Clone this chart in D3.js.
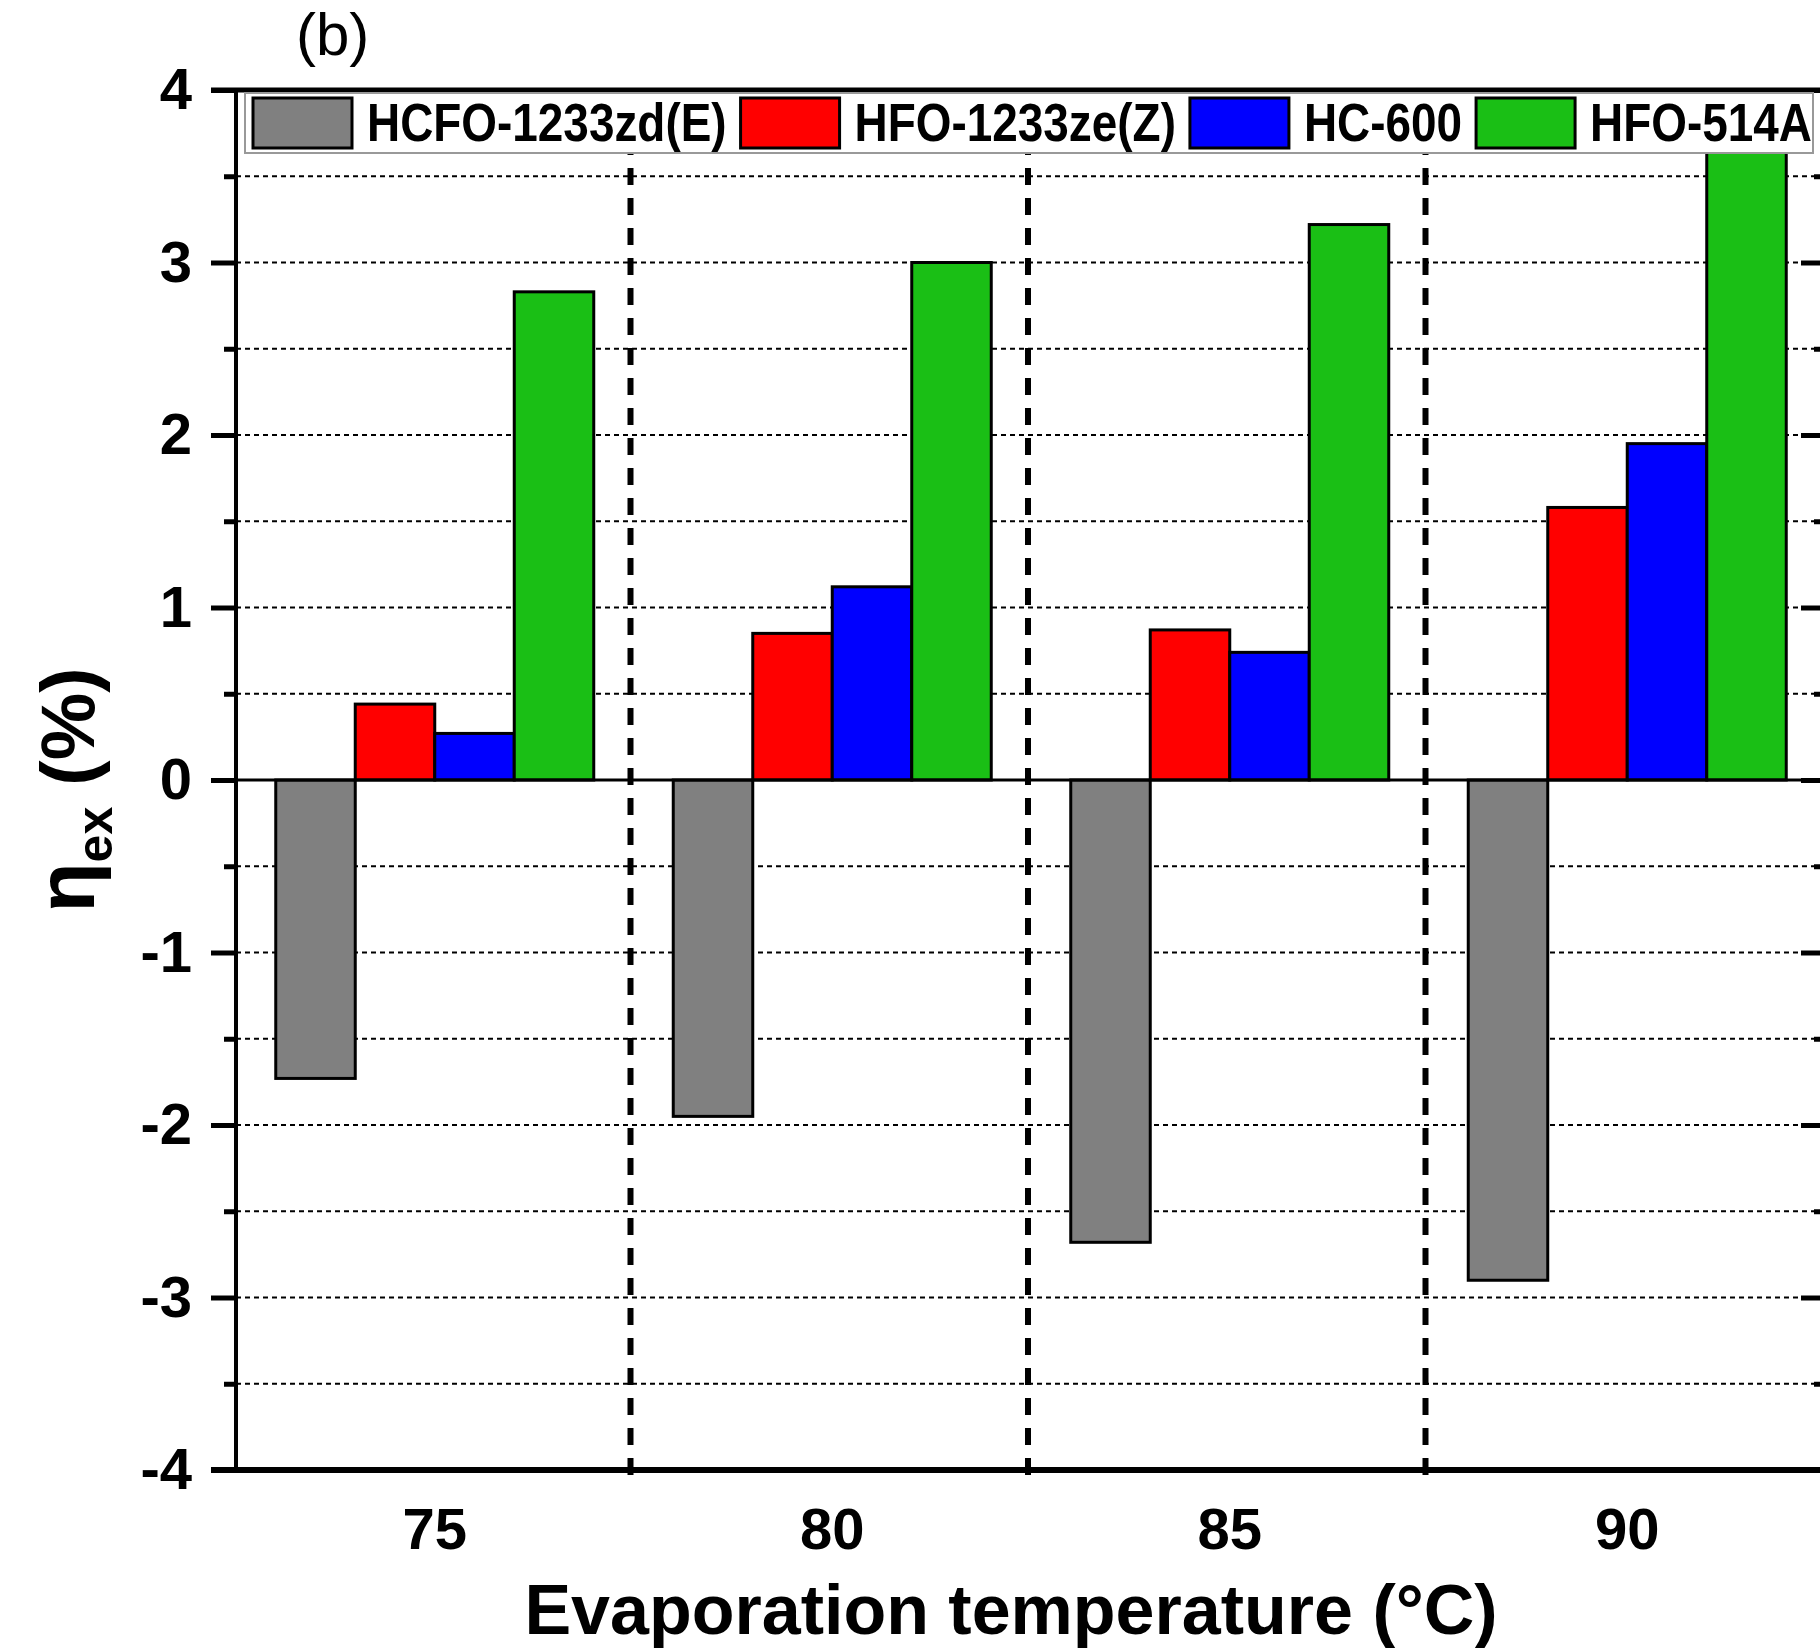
<!DOCTYPE html>
<html lang="en">
<head>
<meta charset="UTF-8">
<title>Exergy efficiency difference</title>
<script src="https://cdn.jsdelivr.net/npm/d3@7"></script>
<style>
  body { margin: 0; background: #fff; }
  text { font-family: "Liberation Sans", Arial, sans-serif; }
</style>
</head>
<body>
<div id="container"></div>
<script>
// evaporation temperatures (°C)
const temps = ["75", "80", "85", "90"];
const seriesNames = ["HCFO-1233zd(E)", "HFO-1233ze(Z)", "HC-600", "HFO-514A"];
const seriesColors = ["#808080", "#ff0000", "#0000ff", "#1abf15"];

// eta_ex (%) per fluid, one value per temperature
const hcfo1233zdE = [-1.73, -1.95, -2.68, -2.90];
const hfo1233zeZ = [0.44, 0.85, 0.87, 1.58];
const hc600 = [0.27, 1.12, 0.74, 1.95];
const hfo514A = [2.83, 3.00, 3.22, 3.70];

const yTicks = [-4, -3, -2, -1, 0, 1, 2, 3, 4];
const yMinor = [-3.5, -2.5, -1.5, -0.5, 0.5, 1.5, 2.5, 3.5];

const allValues = [hcfo1233zdE, hfo1233zeZ, hc600, hfo514A];
const rows = [];
temps.forEach((t, i) => {
  seriesNames.forEach((s, j) => rows.push({ temp: t, series: s, value: allValues[j][i] }));
});

const W = 1820, H = 1648;
const mLeft = 236, mRight = 1826, mTop = 90, mBottom = 1470;

const svg = d3.create("svg").attr("width", W).attr("height", H);

const x = d3.scaleBand().domain(temps).range([mLeft, mRight]);
const xs = d3.scaleBand().domain(seriesNames)
  .range([x.bandwidth() * 0.1, x.bandwidth() * 0.9]);
const y = d3.scaleLinear().domain([-4, 4]).range([mBottom, mTop]);
const color = d3.scaleOrdinal().domain(seriesNames).range(seriesColors);

// dashed grid every 0.5
const gridVals = yTicks.concat(yMinor).filter(v => v !== 0 && v !== 4 && v !== -4);
svg.append("g").selectAll("line").data(gridVals).enter().append("line")
  .attr("x1", mLeft).attr("x2", mRight)
  .attr("y1", d => y(d)).attr("y2", d => y(d))
  .attr("stroke", "#000").attr("stroke-width", 2)
  .attr("stroke-dasharray", "5,4");

// group separators
const seps = temps.slice(1);
svg.append("g").selectAll("line").data(seps).enter().append("line")
  .attr("x1", d => x(d) - 3).attr("x2", d => x(d) - 3)
  .attr("y1", mBottom + 5).attr("y2", mTop)
  .attr("stroke", "#000").attr("stroke-width", 6)
  .attr("stroke-dasharray", "17,13");

// bars
svg.append("g").selectAll("rect").data(rows).enter().append("rect")
  .attr("x", d => x(d.temp) + xs(d.series))
  .attr("width", xs.bandwidth())
  .attr("y", d => y(Math.max(0, d.value)))
  .attr("height", d => Math.abs(y(d.value) - y(0)))
  .attr("fill", d => color(d.series))
  .attr("stroke", "#000").attr("stroke-width", 3);

// zero line
svg.append("line")
  .attr("x1", mLeft).attr("x2", mRight).attr("y1", y(0)).attr("y2", y(0))
  .attr("stroke", "#000").attr("stroke-width", 3);

// left axis
const yAxis = d3.axisLeft(y).tickValues(yTicks).tickSize(25).tickPadding(19)
  .tickFormat(d => String(d));
const gy = svg.append("g").attr("transform", `translate(${mLeft},0)`).call(yAxis);
gy.select(".domain").remove();
gy.selectAll(".tick line").attr("stroke-width", 5);
gy.selectAll(".tick text").attr("font-size", 58).attr("font-weight", "bold").attr("fill", "#000");
const gyMinor = svg.append("g").attr("transform", `translate(${mLeft},0)`)
  .call(d3.axisLeft(y).tickValues(yMinor).tickSize(12).tickFormat(""));
gyMinor.select(".domain").remove();
gyMinor.selectAll(".tick line").attr("stroke-width", 5);

// right axis ticks (inward)
const gr = svg.append("g").attr("transform", `translate(${mRight},0)`)
  .call(d3.axisLeft(y).tickValues(yTicks).tickSize(25).tickFormat(""));
gr.select(".domain").remove();
gr.selectAll(".tick line").attr("stroke-width", 5);
const grm = svg.append("g").attr("transform", `translate(${mRight},0)`)
  .call(d3.axisLeft(y).tickValues(yMinor).tickSize(12).tickFormat(""));
grm.select(".domain").remove();
grm.selectAll(".tick line").attr("stroke-width", 5);

// frame
svg.append("line").attr("x1", mLeft).attr("x2", mLeft).attr("y1", mTop).attr("y2", mBottom)
  .attr("stroke", "#000").attr("stroke-width", 4);
svg.append("line").attr("x1", mLeft - 25).attr("x2", mRight).attr("y1", mTop).attr("y2", mTop)
  .attr("stroke", "#000").attr("stroke-width", 5);
svg.append("line").attr("x1", mLeft - 25).attr("x2", mRight).attr("y1", mBottom).attr("y2", mBottom)
  .attr("stroke", "#000").attr("stroke-width", 6);

// x tick labels
const gx = svg.append("g").attr("transform", `translate(0,${mBottom})`)
  .call(d3.axisBottom(x).tickSize(0).tickPadding(0));
gx.select(".domain").remove();
gx.selectAll(".tick text").attr("font-size", 58).attr("font-weight", "bold")
  .attr("fill", "#000").attr("dy", null).attr("y", 79);

// axis titles
svg.append("text").attr("x", 1011).attr("y", 1634)
  .attr("text-anchor", "middle").attr("font-size", 70).attr("font-weight", "bold")
  .text("Evaporation temperature (°C)");

const yt = svg.append("text")
  .attr("transform", "translate(94,790) rotate(-90)")
  .attr("text-anchor", "middle").attr("font-size", 76).attr("font-weight", "bold");
yt.append("tspan").attr("font-size", 82).text("η");
yt.append("tspan").attr("font-size", 50).attr("dy", 18).text("ex");
yt.append("tspan").attr("dy", -18).text(" (%)");

// panel label
svg.append("text").attr("x", 296).attr("y", 55).attr("font-size", 60).text("(b)");

// legend
const lg = svg.append("g");
lg.append("rect").attr("x", 245).attr("y", 93).attr("width", 1568).attr("height", 60)
  .attr("fill", "#fff").attr("stroke", "#999").attr("stroke-width", 2);
const items = lg.selectAll("g.item").data(seriesNames).enter().append("g").attr("class", "item");
items.append("rect").attr("y", 98).attr("width", 99).attr("height", 50)
  .attr("fill", d => color(d)).attr("stroke", "#000").attr("stroke-width", 3);
items.append("text").attr("font-size", 54).attr("font-weight", "bold")
  .text(d => d);

d3.select("#container").node().append(svg.node());

// lay out legend entries using measured (horizontally condensed) text widths
const squeeze = 0.85;
let cx = 253;
items.each(function () {
  const g = d3.select(this);
  g.select("rect").attr("x", cx);
  const t = g.select("text").attr("transform", `translate(${cx + 114},141) scale(${squeeze},1)`);
  cx += 114 + t.node().getComputedTextLength() * squeeze + 14;
});
</script>
</body>
</html>
